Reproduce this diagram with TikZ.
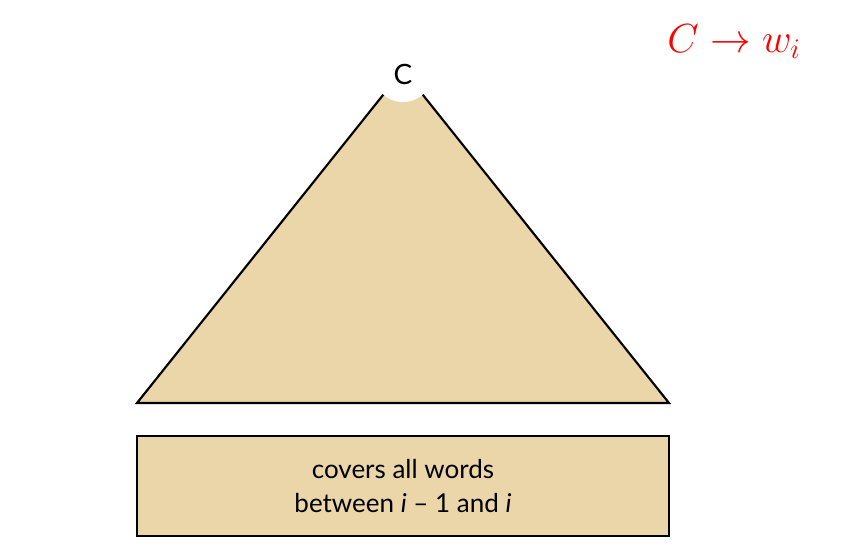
\RequirePackage{fix-cm}
\documentclass[tikz,border=0pt]{standalone}
\usepackage{fontspec}
\setmainfont{Lato}
\definecolor{tan}{RGB}{235,214,170}
\begin{document}
\begin{tikzpicture}[x=0.75pt,y=-0.75pt,
  shape fill/.style={fill=tan,draw=black,line join=miter},
  label text/.style={font=\fontsize{19.5}{25}\selectfont,align=center,text=black}]
\useasboundingbox (0,0) rectangle (854,547);
\coordinate (apex) at (403,70);
\coordinate (bl) at (137,403);
\coordinate (br) at (669,403);
\filldraw[shape fill,line width=1.6pt] (bl) -- (apex) -- (br) -- cycle;
\fill[white] (403,72) circle (30);
\node[font=\fontsize{21}{24}\selectfont] (c) at (403,74) {C};
\node[shape fill,line width=2.2pt,minimum width=532*0.75pt,minimum height=100*0.75pt,inner sep=0pt] (box) at (403,486) {};
\node[label text] (txt) at (403,486) {covers all words\\between \textit{i} – 1 and \textit{i}};
\node[text=red,font=\fontsize{30.5}{34}\selectfont] (rule) at (734,42) {$C \to w_i$};
\end{tikzpicture}
\end{document}
